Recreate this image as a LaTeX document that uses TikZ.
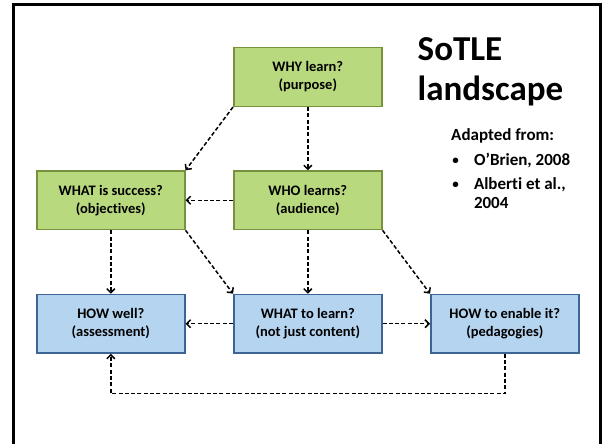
\documentclass[tikz,border=0pt]{standalone}
\usepackage{fontspec}
\setmainfont[Ligatures=NoCommon]{Carlito}
\usetikzlibrary{arrows.meta}
\definecolor{gfill}{RGB}{185,217,126}
\definecolor{gdraw}{RGB}{118,146,60}
\definecolor{bfill}{RGB}{181,212,240}
\definecolor{bdraw}{RGB}{62,100,150}
\tikzset{
  box/.style={draw, line width=1.5pt, minimum width=148pt, minimum height=58.5pt, inner sep=0pt,
    align=center, font=\fontsize{14.5}{18}\selectfont\bfseries},
  gbox/.style={box, fill=gfill, draw=gdraw},
  bbox/.style={box, fill=bfill, draw=bdraw},
  conn/.style={draw=black, line width=1.5pt, dash pattern=on 4pt off 2.3pt, -{Straight Barb[length=4pt,width=8pt]}},
  txt/.style={anchor=base west, inner sep=0pt, font=\fontsize{17}{20}\selectfont\bfseries},
  bul/.style={anchor=base, inner sep=0pt, font=\fontsize{13}{16}\selectfont\bfseries}
}
\begin{document}
\begin{tikzpicture}[x=1pt,y=-1pt]
\useasboundingbox (0,0) rectangle (602,444);
\fill[white] (0,0) rectangle (602,444);
\draw[line width=3pt] (13.3,460) -- (13.3,4.3) -- (600.5,4.3) -- (600.5,460);

\node[gbox] (why) at (307.8,77) {WHY learn?\\(purpose)};
\node[gbox] (succ) at (110.8,200.3) {WHAT is success?\\(objectives)};
\node[gbox] (who) at (307.8,200.3) {WHO learns?\\(audience)};
\node[bbox] (well) at (110.8,323.7) {HOW well?\\(assessment)};
\node[bbox] (learn) at (307.8,323.7) {WHAT to learn?\\(not just content)};
\node[bbox] (enable) at (504.8,323.7) {HOW to enable it?\\(pedagogies)};

\node[anchor=base west, inner sep=0pt, font=\fontsize{35}{40}\selectfont\bfseries] (t1) at (417.5,60) {SoTLE};
\node[anchor=base west, inner sep=0pt, font=\fontsize{35}{40}\selectfont\bfseries] (t2) at (417.5,100.5) {landscape};
\node[txt] (ad) at (451,140.7) {Adapted from:};
\node[bul] (b1) at (455.5,164) {•};
\node[txt] (r1) at (473.8,165) {O’Brien, 2008};
\node[bul] (b2) at (455.5,188.5) {•};
\node[txt] (r2) at (473.8,189.5) {Alberti et al.,};
\node[txt] (r3) at (473.8,208) {2004};

\draw[conn] (why.south west) -- (succ.north east);
\draw[conn] (why.south) -- (who.north);
\draw[conn] (who.west) -- (succ.east);
\draw[conn] (succ.south) -- (well.north);
\draw[conn] (succ.south east) -- (learn.north west);
\draw[conn] (who.south) -- (learn.north);
\draw[conn] (who.south east) -- (enable.north west);
\draw[conn] (learn.west) -- (well.east);
\draw[conn] (learn.east) -- (enable.west);
\coordinate (c1) at (504.8,393.5);
\coordinate (c2) at (110.8,393.5);
\draw[conn] (enable.south) -- (c1) -- (c2) -- (well.south);
\end{tikzpicture}
\end{document}
